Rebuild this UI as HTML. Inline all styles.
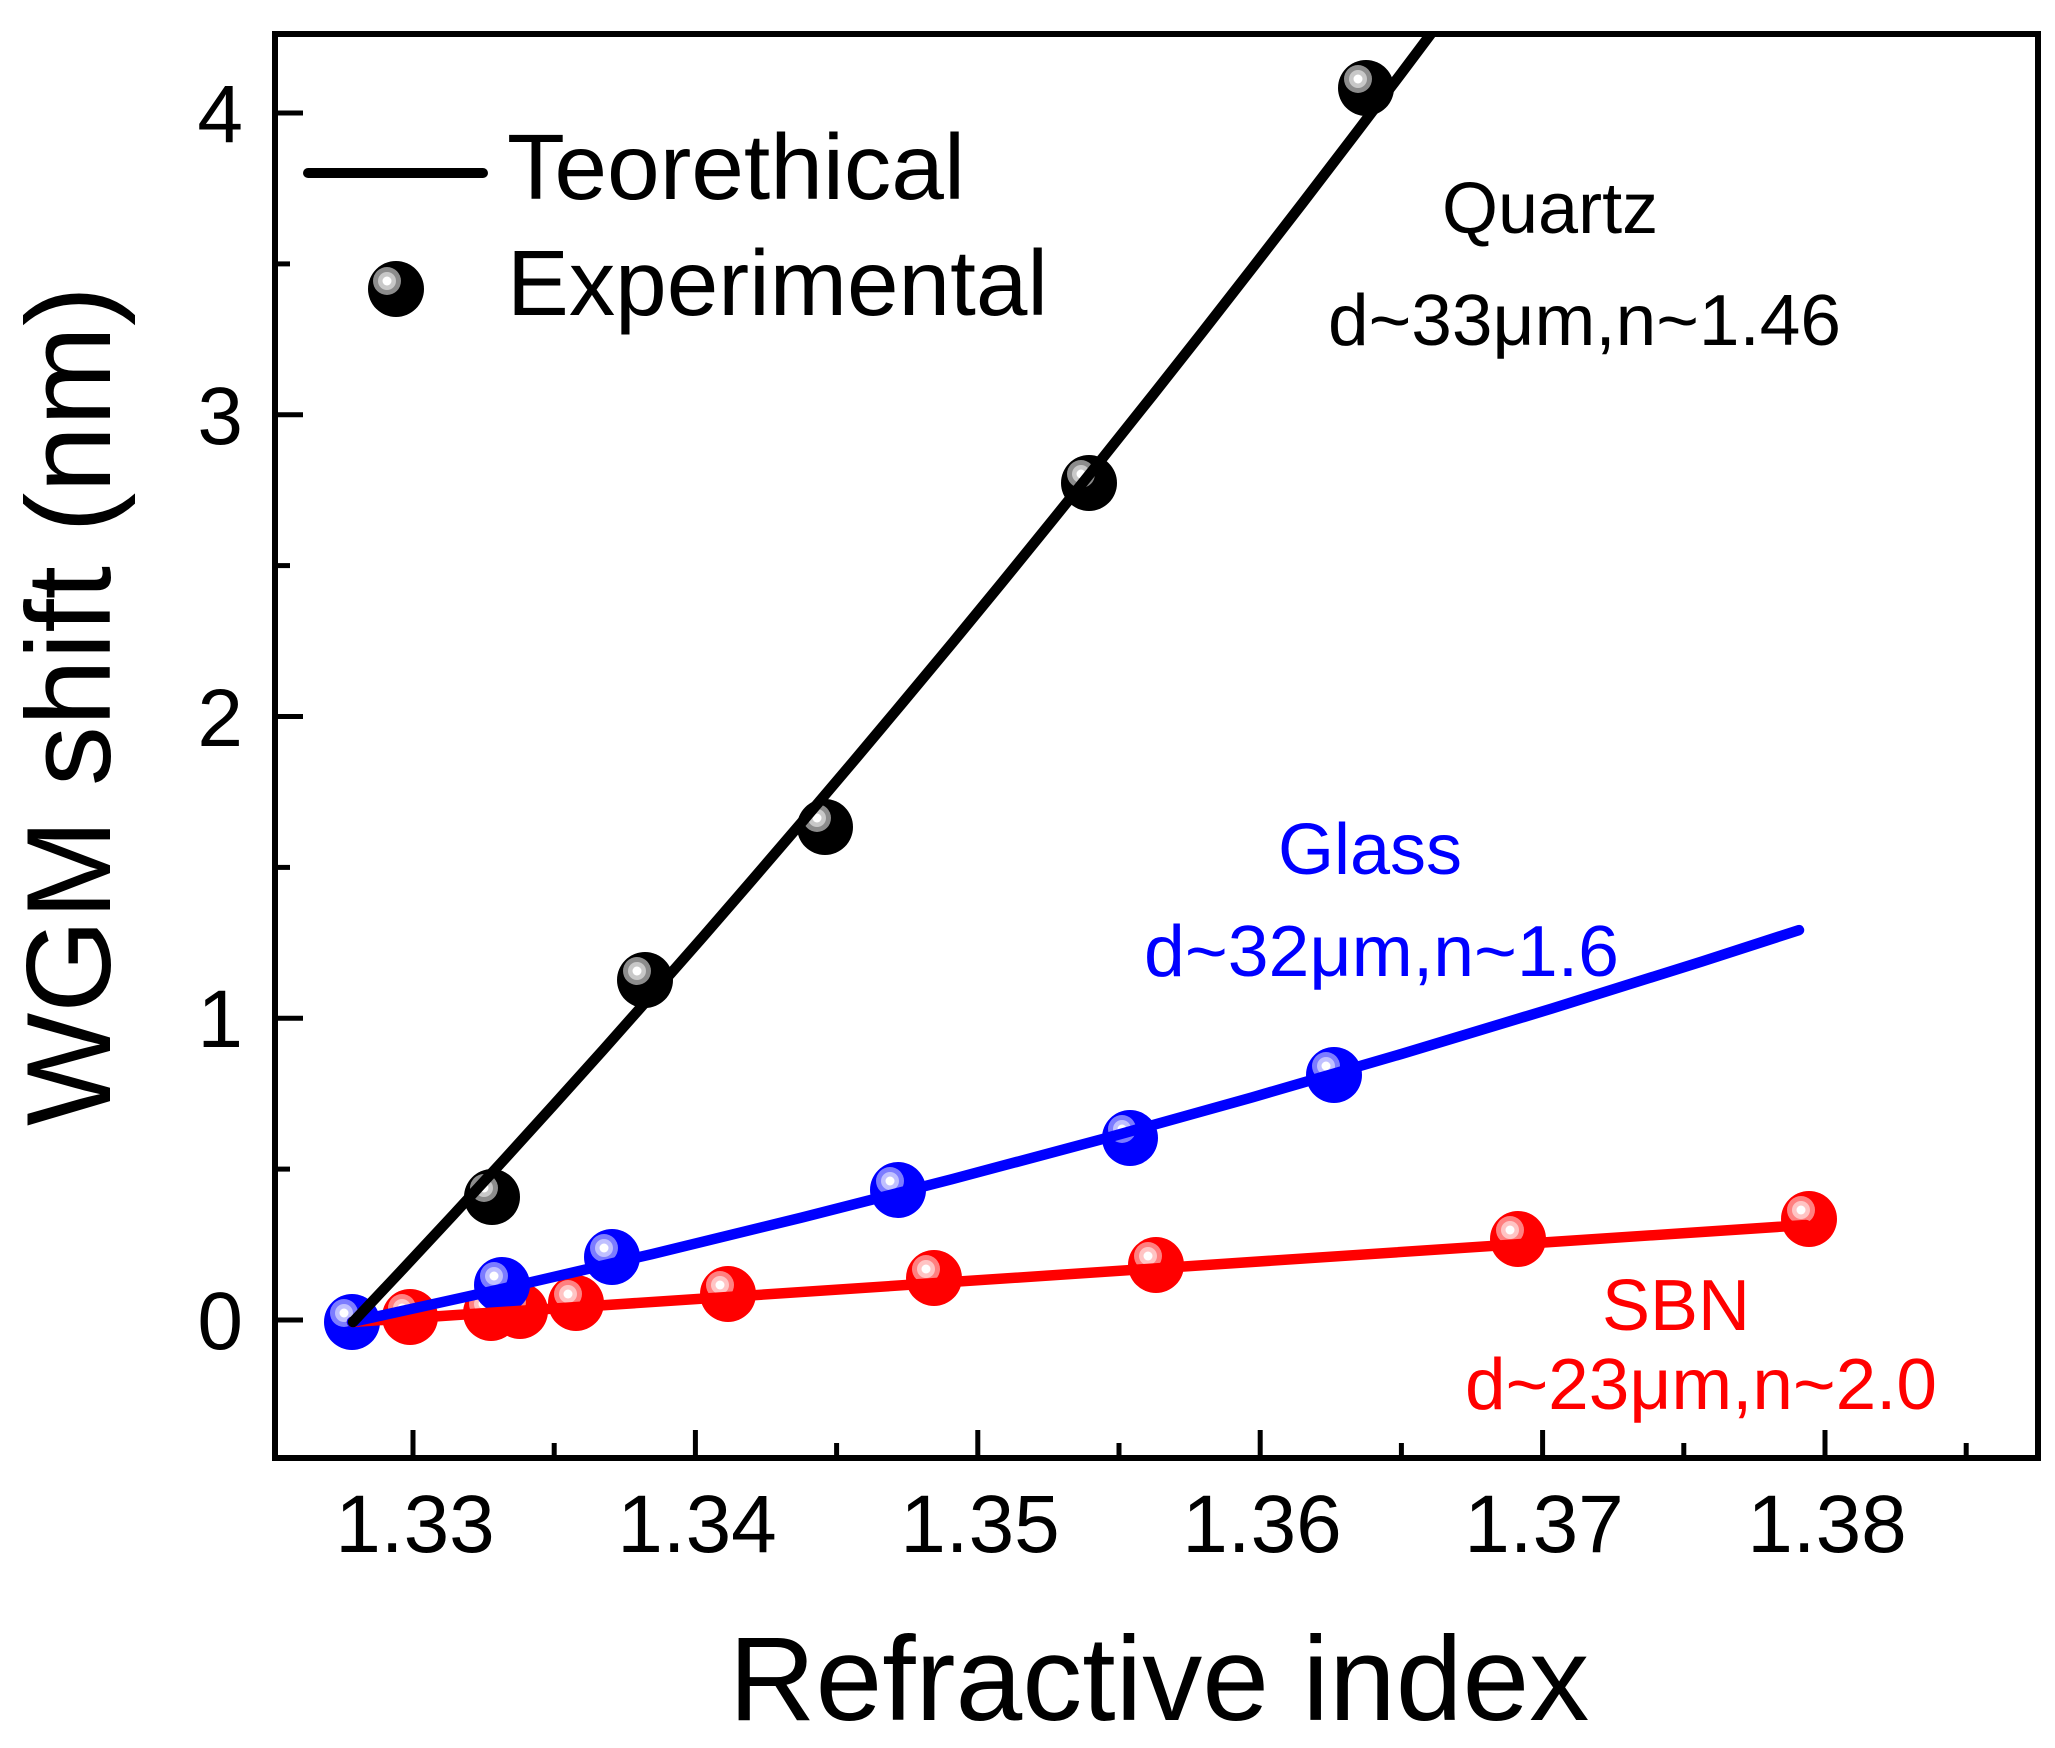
<!DOCTYPE html>
<html>
<head>
<meta charset="utf-8">
<style>
  html, body { margin: 0; padding: 0; background: #fff; }
  svg { display: block; }
  text { font-family: "Liberation Sans", Arial, sans-serif; }
</style>
</head>
<body>
<svg width="2055" height="1748" viewBox="0 0 2055 1748" xmlns="http://www.w3.org/2000/svg">
  <defs>
    <clipPath id="plot">
      <rect x="278" y="37" width="1757" height="1418"/>
    </clipPath>
  </defs>

  <rect x="0" y="0" width="2055" height="1748" fill="#fff"/>

  <g clip-path="url(#plot)">
    <!-- Red markers -->
    <g>
      <g transform="translate(410,1317)"><circle r="28" fill="#ff0000"/><circle cx="-8" cy="-9" r="14" fill="#ff8080"/><circle cx="-8" cy="-9" r="9" fill="#ffc4c4"/><circle cx="-8" cy="-9" r="4.5" fill="#fff"/></g>
      <g transform="translate(491,1313)"><circle r="28" fill="#ff0000"/><circle cx="-8" cy="-9" r="14" fill="#ff8080"/><circle cx="-8" cy="-9" r="9" fill="#ffc4c4"/><circle cx="-8" cy="-9" r="4.5" fill="#fff"/></g>
      <g transform="translate(520,1311)"><circle r="28" fill="#ff0000"/><circle cx="-8" cy="-9" r="14" fill="#ff8080"/><circle cx="-8" cy="-9" r="9" fill="#ffc4c4"/><circle cx="-8" cy="-9" r="4.5" fill="#fff"/></g>
      <g transform="translate(576,1303)"><circle r="28" fill="#ff0000"/><circle cx="-8" cy="-9" r="14" fill="#ff8080"/><circle cx="-8" cy="-9" r="9" fill="#ffc4c4"/><circle cx="-8" cy="-9" r="4.5" fill="#fff"/></g>
      <g transform="translate(728,1294)"><circle r="28" fill="#ff0000"/><circle cx="-8" cy="-9" r="14" fill="#ff8080"/><circle cx="-8" cy="-9" r="9" fill="#ffc4c4"/><circle cx="-8" cy="-9" r="4.5" fill="#fff"/></g>
      <g transform="translate(934,1278)"><circle r="28" fill="#ff0000"/><circle cx="-8" cy="-9" r="14" fill="#ff8080"/><circle cx="-8" cy="-9" r="9" fill="#ffc4c4"/><circle cx="-8" cy="-9" r="4.5" fill="#fff"/></g>
      <g transform="translate(1156,1265)"><circle r="28" fill="#ff0000"/><circle cx="-8" cy="-9" r="14" fill="#ff8080"/><circle cx="-8" cy="-9" r="9" fill="#ffc4c4"/><circle cx="-8" cy="-9" r="4.5" fill="#fff"/></g>
      <g transform="translate(1518,1239)"><circle r="28" fill="#ff0000"/><circle cx="-8" cy="-9" r="14" fill="#ff8080"/><circle cx="-8" cy="-9" r="9" fill="#ffc4c4"/><circle cx="-8" cy="-9" r="4.5" fill="#fff"/></g>
      <g transform="translate(1809,1219)"><circle r="28" fill="#ff0000"/><circle cx="-8" cy="-9" r="14" fill="#ff8080"/><circle cx="-8" cy="-9" r="9" fill="#ffc4c4"/><circle cx="-8" cy="-9" r="4.5" fill="#fff"/></g>
    </g>

    <!-- Blue markers -->
    <g>
      <g transform="translate(352,1322)"><circle r="28" fill="#0000ff"/><circle cx="-8" cy="-9" r="14" fill="#7c7cff"/><circle cx="-8" cy="-9" r="9" fill="#c0c0ff"/><circle cx="-8" cy="-9" r="4.5" fill="#fff"/></g>
      <g transform="translate(502,1285)"><circle r="28" fill="#0000ff"/><circle cx="-8" cy="-9" r="14" fill="#7c7cff"/><circle cx="-8" cy="-9" r="9" fill="#c0c0ff"/><circle cx="-8" cy="-9" r="4.5" fill="#fff"/></g>
      <g transform="translate(612,1257)"><circle r="28" fill="#0000ff"/><circle cx="-8" cy="-9" r="14" fill="#7c7cff"/><circle cx="-8" cy="-9" r="9" fill="#c0c0ff"/><circle cx="-8" cy="-9" r="4.5" fill="#fff"/></g>
      <g transform="translate(898,1190)"><circle r="28" fill="#0000ff"/><circle cx="-8" cy="-9" r="14" fill="#7c7cff"/><circle cx="-8" cy="-9" r="9" fill="#c0c0ff"/><circle cx="-8" cy="-9" r="4.5" fill="#fff"/></g>
      <g transform="translate(1130,1138)"><circle r="28" fill="#0000ff"/><circle cx="-8" cy="-9" r="14" fill="#7c7cff"/><circle cx="-8" cy="-9" r="9" fill="#c0c0ff"/><circle cx="-8" cy="-9" r="4.5" fill="#fff"/></g>
      <g transform="translate(1334,1075)"><circle r="28" fill="#0000ff"/><circle cx="-8" cy="-9" r="14" fill="#7c7cff"/><circle cx="-8" cy="-9" r="9" fill="#c0c0ff"/><circle cx="-8" cy="-9" r="4.5" fill="#fff"/></g>
    </g>

    <!-- Black markers -->
    <g>
      <g transform="translate(492,1197)"><circle r="28" fill="#000"/><circle cx="-8" cy="-9" r="14" fill="#8c8c8c"/><circle cx="-8" cy="-9" r="9" fill="#c8c8c8"/><circle cx="-8" cy="-9" r="4.5" fill="#fff"/></g>
      <g transform="translate(645,980)"><circle r="28" fill="#000"/><circle cx="-8" cy="-9" r="14" fill="#8c8c8c"/><circle cx="-8" cy="-9" r="9" fill="#c8c8c8"/><circle cx="-8" cy="-9" r="4.5" fill="#fff"/></g>
      <g transform="translate(825,827)"><circle r="28" fill="#000"/><circle cx="-8" cy="-9" r="14" fill="#8c8c8c"/><circle cx="-8" cy="-9" r="9" fill="#c8c8c8"/><circle cx="-8" cy="-9" r="4.5" fill="#fff"/></g>
      <g transform="translate(1089,483)"><circle r="28" fill="#000"/><circle cx="-8" cy="-9" r="14" fill="#8c8c8c"/><circle cx="-8" cy="-9" r="9" fill="#c8c8c8"/><circle cx="-8" cy="-9" r="4.5" fill="#fff"/></g>
      <g transform="translate(1366,88)"><circle r="28" fill="#000"/><circle cx="-8" cy="-9" r="14" fill="#8c8c8c"/><circle cx="-8" cy="-9" r="9" fill="#c8c8c8"/><circle cx="-8" cy="-9" r="4.5" fill="#fff"/></g>
    </g>

    <!-- Lines -->
    <polyline points="352,1322 1806,1225" fill="none" stroke="#ff0000" stroke-width="10.5" stroke-linecap="round" stroke-linejoin="round"/>
    <polyline points="352,1322 502,1288.9 652,1254.1 802,1217.5 952,1179.2 1102,1139.2 1252,1097.4 1402,1053.8 1552,1008.5 1702,961.5 1799,930.1" fill="none" stroke="#0000ff" stroke-width="10.5" stroke-linecap="round" stroke-linejoin="round"/>
    <polyline points="353,1322 403,1268.9 453,1215.2 503,1160.8 553,1105.7 603,1050.1 653,993.7 703,936.8 753,879.1 803,820.8 853,761.9 903,702.3 953,642.2 1003,581.3 1053,519.7 1103,457.6 1153,394.8 1203,331.4 1253,267.2 1303,202.5 1353,137.1 1403,71.1 1453,4.4" fill="none" stroke="#000" stroke-width="10.5" stroke-linecap="round" stroke-linejoin="round"/>
  </g>

  <!-- Frame -->
  <rect x="275" y="34" width="1763" height="1424" fill="none" stroke="#000" stroke-width="6"/>

  <!-- Y ticks -->
  <g stroke="#000" stroke-width="5">
    <line x1="278" y1="1320" x2="303" y2="1320"/>
    <line x1="278" y1="1018.25" x2="303" y2="1018.25"/>
    <line x1="278" y1="716.5" x2="303" y2="716.5"/>
    <line x1="278" y1="414.75" x2="303" y2="414.75"/>
    <line x1="278" y1="113" x2="303" y2="113"/>
    <line x1="278" y1="1169.1" x2="290" y2="1169.1"/>
    <line x1="278" y1="867.4" x2="290" y2="867.4"/>
    <line x1="278" y1="565.6" x2="290" y2="565.6"/>
    <line x1="278" y1="263.9" x2="290" y2="263.9"/>
  </g>

  <!-- X ticks -->
  <g stroke="#000" stroke-width="5">
    <line x1="413" y1="1455" x2="413" y2="1430"/>
    <line x1="695.4" y1="1455" x2="695.4" y2="1430"/>
    <line x1="977.8" y1="1455" x2="977.8" y2="1430"/>
    <line x1="1260.2" y1="1455" x2="1260.2" y2="1430"/>
    <line x1="1542.6" y1="1455" x2="1542.6" y2="1430"/>
    <line x1="1825" y1="1455" x2="1825" y2="1430"/>
    <line x1="554.2" y1="1455" x2="554.2" y2="1443"/>
    <line x1="836.6" y1="1455" x2="836.6" y2="1443"/>
    <line x1="1119" y1="1455" x2="1119" y2="1443"/>
    <line x1="1401.4" y1="1455" x2="1401.4" y2="1443"/>
    <line x1="1683.8" y1="1455" x2="1683.8" y2="1443"/>
    <line x1="1966.2" y1="1455" x2="1966.2" y2="1443"/>
  </g>

  <!-- Y tick labels -->
  <g font-size="82" fill="#000" text-anchor="end">
    <text x="243" y="1349">0</text>
    <text x="243" y="1047">1</text>
    <text x="243" y="746">2</text>
    <text x="243" y="444">3</text>
    <text x="243" y="142">4</text>
  </g>

  <!-- X tick labels -->
  <g font-size="82" fill="#000" text-anchor="middle">
    <text x="415" y="1552">1.33</text>
    <text x="697" y="1552">1.34</text>
    <text x="980" y="1552">1.35</text>
    <text x="1262" y="1552">1.36</text>
    <text x="1544" y="1552">1.37</text>
    <text x="1827" y="1552">1.38</text>
  </g>

  <!-- Axis titles -->
  <text x="1159" y="1720" font-size="120" text-anchor="middle" fill="#000">Refractive index</text>
  <text transform="translate(110,706) rotate(-90)" font-size="120" text-anchor="middle" fill="#000">WGM shift (nm)</text>

  <!-- Legend -->
  <line x1="308" y1="173" x2="483" y2="173" stroke="#000" stroke-width="10" stroke-linecap="round"/>
  <text x="507" y="199" font-size="93" fill="#000" textLength="458" lengthAdjust="spacingAndGlyphs">Teorethical</text>
  <g transform="translate(396,289)"><circle r="28" fill="#000"/><circle cx="-9" cy="-8" r="14" fill="#8c8c8c"/><circle cx="-9" cy="-8" r="9" fill="#c8c8c8"/><circle cx="-9" cy="-8" r="4.5" fill="#fff"/></g>
  <text x="507" y="315" font-size="93" fill="#000" textLength="541" lengthAdjust="spacingAndGlyphs">Experimental</text>

  <!-- Annotations -->
  <g font-size="72">
    <text x="1442" y="233" fill="#000">Quartz</text>
    <text x="1328" y="345" fill="#000" textLength="513" lengthAdjust="spacingAndGlyphs">d~33μm,n~1.46</text>
    <text x="1278" y="874" fill="#0000ff">Glass</text>
    <text x="1144" y="976" fill="#0000ff" textLength="475" lengthAdjust="spacingAndGlyphs">d~32μm,n~1.6</text>
    <text x="1602" y="1330" fill="#ff0000">SBN</text>
    <text x="1465" y="1409" fill="#ff0000" textLength="472" lengthAdjust="spacingAndGlyphs">d~23μm,n~2.0</text>
  </g>
</svg>
</body>
</html>
